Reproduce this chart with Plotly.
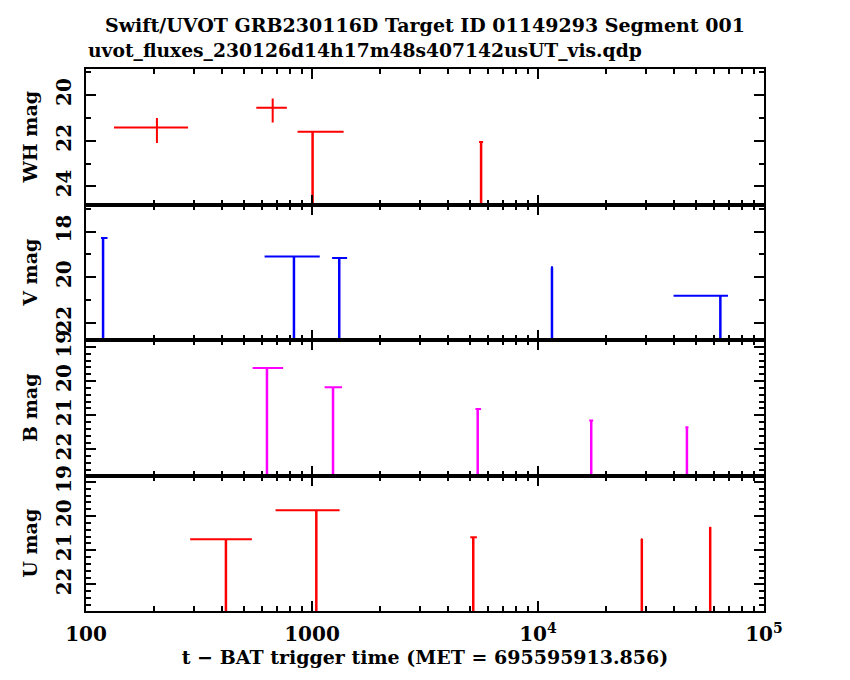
import plotly.graph_objects as go
from plotly.subplots import make_subplots

# ---------------- data ----------------
# White filter: detections
wh_det_t = [206, 670]
wh_det_t_lo = [133, 567]
wh_det_t_hi = [283, 774]
wh_det_mag = [21.42, 20.56]
wh_det_mag_bright = [21.00, 20.15]
wh_det_mag_faint = [22.10, 21.20]
# White filter: upper limits
wh_lim_t = [1006, 5600]
wh_lim_t_lo = [863, 5485]
wh_lim_t_hi = [1380, 5715]
wh_lim_mag = [21.61, 22.05]

# V filter: upper limits
v_lim_t = [119, 832, 1320, 11530, 64100]
v_lim_t_lo = [116.5, 617, 1227, 11420, 39800]
v_lim_t_hi = [124.5, 1082, 1430, 11640, 69300]
v_lim_mag = [18.28, 19.09, 19.16, 19.57, 20.82]

# B filter: upper limits
b_lim_t = [632, 1239, 5410, 17200, 45600]
b_lim_t_lo = [546, 1137, 5285, 16850, 44900]
b_lim_t_hi = [745, 1358, 5600, 17550, 46300]
b_lim_mag = [19.62, 20.18, 20.82, 21.15, 21.35]

# U filter: upper limits
u_lim_t = [416, 1045, 5170, 28800, 57800]
u_lim_t_lo = [289, 690, 5015, 28650, 57800]
u_lim_t_hi = [542, 1325, 5365, 28950, 57800]
u_lim_mag = [20.68, 19.83, 20.62, 20.67, 20.32]

panel_names = ["WH mag", "V mag", "B mag", "U mag"]
panel_ranges = [[24.79, 18.86], [22.76, 16.81], [22.76, 18.80], [22.78, 18.81]]
panel_dtick = [2, 2, 1, 1]
panel_minor = [1, 1, 0.2, 0.2]

x_tickvals = [100, 1000, 1e4, 1e5]
x_ticktext = ["100", "1000", "10<sup>4</sup>", "10<sup>5</sup>"]
x_minor = [k * 10 ** d for d in (2, 3, 4) for k in range(2, 10)]

RED = "#ff0000"
BLUE = "#0000ff"
MAGENTA = "#ff00ff"
LIMIT_LEN = 10.0  # arrow length (mag) for upper limits, clipped by panel
FONT = "DejaVu Serif"
TITLE_FONT = dict(family=FONT, size=19, color="black", weight="bold")
SUB_FONT = dict(family=FONT, size=18.7, color="black", weight="bold")
TICK_FONT = dict(family=FONT, size=20, color="black", weight="bold")

fig = make_subplots(rows=4, cols=1, shared_xaxes=True, vertical_spacing=0)


def add_detections(row, t, t_lo, t_hi, mag, bright, faint, color):
    fig.add_trace(go.Scatter(
        x=t, y=mag, mode="markers",
        marker=dict(size=1, color=color),
        error_x=dict(type="data", symmetric=False,
                     array=[h - x for h, x in zip(t_hi, t)],
                     arrayminus=[x - l for l, x in zip(t_lo, t)],
                     width=0, thickness=2, color=color),
        error_y=dict(type="data", symmetric=False,
                     array=[f - m for f, m in zip(faint, mag)],
                     arrayminus=[m - b for b, m in zip(bright, mag)],
                     width=0, thickness=2, color=color),
        showlegend=False, hoverinfo="x+y"), row=row, col=1)


def add_limits(row, t, t_lo, t_hi, mag, color):
    n = len(t)
    fig.add_trace(go.Scatter(
        x=t, y=mag, mode="markers",
        marker=dict(size=1, color=color),
        error_x=dict(type="data", symmetric=False,
                     array=[h - x for h, x in zip(t_hi, t)],
                     arrayminus=[x - l for l, x in zip(t_lo, t)],
                     width=0, thickness=2, color=color),
        error_y=dict(type="data", symmetric=False,
                     array=[LIMIT_LEN] * n, arrayminus=[0] * n,
                     width=0, thickness=2.5, color=color),
        showlegend=False, hoverinfo="x+y"), row=row, col=1)


add_detections(1, wh_det_t, wh_det_t_lo, wh_det_t_hi, wh_det_mag,
               wh_det_mag_bright, wh_det_mag_faint, RED)
add_limits(1, wh_lim_t, wh_lim_t_lo, wh_lim_t_hi, wh_lim_mag, RED)
add_limits(2, v_lim_t, v_lim_t_lo, v_lim_t_hi, v_lim_mag, BLUE)
add_limits(3, b_lim_t, b_lim_t_lo, b_lim_t_hi, b_lim_mag, MAGENTA)
add_limits(4, u_lim_t, u_lim_t_lo, u_lim_t_hi, u_lim_mag, RED)

axis_common = dict(showline=True, linecolor="black", linewidth=2, mirror="allticks",
                   ticks="inside", ticklen=10, tickwidth=2, tickcolor="black",
                   showgrid=False, zeroline=False, automargin=False,
                   tickfont=TICK_FONT)

for i in range(4):
    r = i + 1
    fig.update_xaxes(type="log", range=[2, 5], tickmode="array",
                     tickvals=x_tickvals, ticktext=x_ticktext,
                     minor=dict(tickmode="array", tickvals=x_minor, ticks="inside",
                                ticklen=5, tickwidth=2, tickcolor="black"),
                     ticklabelstandoff=4,
                     **axis_common, row=r, col=1)
    fig.update_yaxes(range=panel_ranges[i], tickmode="linear", tick0=0,
                     dtick=panel_dtick[i], tickangle=-90,
                     minor=dict(tickmode="linear", tick0=0, dtick=panel_minor[i],
                                ticks="inside", ticklen=5, tickwidth=2,
                                tickcolor="black"),
                     ticklabelstandoff=5,
                     title=dict(text=panel_names[i], standoff=9, font=TITLE_FONT),
                     **axis_common, row=r, col=1)

fig.update_xaxes(showticklabels=False)
fig.update_xaxes(showticklabels=True, row=4, col=1,
                 title=dict(text="t − BAT trigger time (MET = 695595913.856)",
                            standoff=4, font=TITLE_FONT))

fig.add_annotation(text="Swift/UVOT GRB230116D Target ID 01149293 Segment 001",
                   xref="paper", yref="paper", x=0.5, y=1.081,
                   xanchor="center", yanchor="middle", showarrow=False,
                   font=TITLE_FONT)
fig.add_annotation(text="uvot_fluxes_230126d14h17m48s407142usUT_vis.qdp",
                   xref="paper", yref="paper", x=0.0, y=1.035,
                   xanchor="left", yanchor="middle", showarrow=False,
                   font=SUB_FONT)

# page body adds an 8px offset, so margins are shifted accordingly
fig.update_layout(width=850, height=680,
                  margin=dict(l=78, r=94, t=61, b=77, autoexpand=False),
                  plot_bgcolor="white", paper_bgcolor="white",
                  showlegend=False)

fig.write_html("out.html")
